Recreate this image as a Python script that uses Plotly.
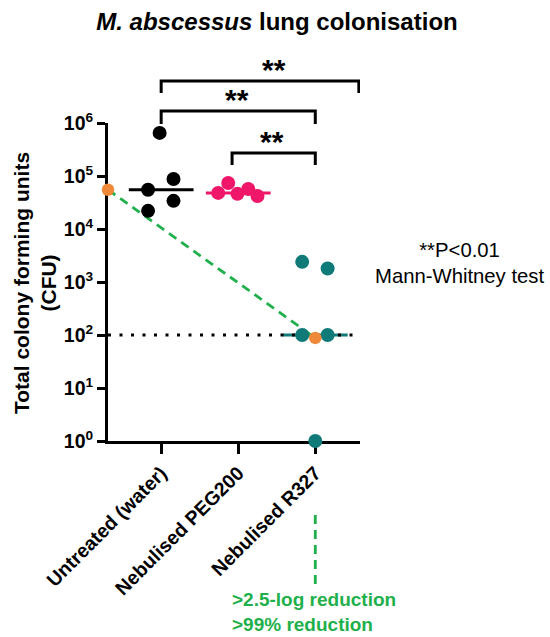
import plotly.graph_objects as go

# ---------------- data ----------------
categories = ["Untreated (water)", "Nebulised PEG200", "Nebulised R327"]

untreated_cfu = [650000, 55000, 88000, 22000, 34000]
peg200_cfu = [74000, 48000, 46000, 57000, 42000]
r327_cfu = [2400, 1800, 100, 100, 1]

median_cfu = [55000, 48000, 100]
detection_limit = 100

reduction_start_cfu = 55000   # untreated median, drawn at the y axis
reduction_end_cfu = 88        # R327 reference point

y_tickvals = [1, 10, 100, 1000, 10000, 100000, 1000000]
y_ticktext = ["10<sup>0</sup>", "10<sup>1</sup>", "10<sup>2</sup>", "10<sup>3</sup>",
              "10<sup>4</sup>", "10<sup>5</sup>", "10<sup>6</sup>"]

# horizontal scatter of the dots within each column (in category units)
untreated_jitter = [-0.02, -0.17, 0.16, -0.17, 0.16]
peg200_jitter = [-0.13, -0.26, -0.01, 0.13, 0.25]
r327_jitter = [-0.17, 0.16, -0.17, 0.16, 0.0]

# ---------------- styling ----------------
FONT = "Liberation Sans, Arial, sans-serif"
BLACK = "#000000"
PINK = "#f0176b"
TEAL = "#0f7a78"
ORANGE = "#f0883a"
GREEN = "#1fb04b"

X_RANGE = [-0.69, 2.58]
MEDIAN_HALF = 0.42

fig = go.Figure()

groups = [
    (0, untreated_cfu, untreated_jitter, BLACK, 14),
    (1, peg200_cfu, peg200_jitter, PINK, 14),
    (2, r327_cfu, r327_jitter, TEAL, 14),
]

# median lines
for (i, vals, jit, col, sz) in groups:
    fig.add_trace(go.Scatter(
        x=[i - MEDIAN_HALF, i + MEDIAN_HALF], y=[median_cfu[i], median_cfu[i]],
        mode="lines", line=dict(color=col, width=3), hoverinfo="skip",
        showlegend=False))

# detection limit dotted line
fig.add_trace(go.Scatter(
    x=X_RANGE, y=[detection_limit, detection_limit], mode="lines",
    line=dict(color=BLACK, width=3, dash="3px,8.5px"), hoverinfo="skip",
    showlegend=False))

# green dashed reduction line
fig.add_trace(go.Scatter(
    x=[X_RANGE[0], 2], y=[reduction_start_cfu, reduction_end_cfu], mode="lines",
    line=dict(color=GREEN, width=2.8, dash="9px,6px"), hoverinfo="skip",
    showlegend=False))

# data points
for (i, vals, jit, col, sz) in groups:
    fig.add_trace(go.Scatter(
        x=[i + j for j in jit], y=vals, mode="markers",
        marker=dict(color=col, size=sz, line=dict(width=0)),
        cliponaxis=False, showlegend=False))

# orange reference points
fig.add_trace(go.Scatter(
    x=[X_RANGE[0], 2], y=[reduction_start_cfu, reduction_end_cfu], mode="markers",
    marker=dict(color=ORANGE, size=12.5, line=dict(width=0)),
    cliponaxis=False, showlegend=False))

# ---------------- significance brackets ----------------
def py2paper(py):
    return (441 - py) / 318.0

brackets = [
    (0, 2.565, 81, 93),
    (0, 2.0, 111, 124),
    (0.92, 2.0, 153, 165),
]
for (x0, x1, ytop, ybot) in brackets:
    yt, yb = py2paper(ytop), py2paper(ybot)
    fig.add_shape(type="path", xref="x", yref="paper",
                  path=f"M {x0},{yb} L {x0},{yt} L {x1},{yt} L {x1},{yb}",
                  line=dict(color=BLACK, width=3))

stars = [(1.47, 69), (0.99, 99), (1.44, 141)]
for (sx, spy) in stars:
    fig.add_annotation(x=sx, y=py2paper(spy), xref="x", yref="paper",
                       text="<b>**</b>", showarrow=False,
                       font=dict(family=FONT, size=30, color=BLACK),
                       xanchor="center", yanchor="middle")

# green vertical dashed line below R327
fig.add_shape(type="line", xref="x", yref="paper", x0=2, x1=2,
              y0=py2paper(515), y1=py2paper(586),
              line=dict(color=GREEN, width=2.8, dash="9px,6px"))

fig.add_annotation(x=(230 - 108) / 252.0, y=py2paper(612), xref="paper", yref="paper",
                   text="<b>&gt;2.5-log reduction<br>&gt;99% reduction</b>",
                   showarrow=False, align="left", xanchor="left", yanchor="middle",
                   font=dict(family=FONT, size=19, color=GREEN))

fig.add_annotation(x=(459 - 108) / 252.0, y=py2paper(263), xref="paper", yref="paper",
                   text="**P&lt;0.01<br>Mann-Whitney test",
                   showarrow=False, align="center", xanchor="center", yanchor="middle",
                   font=dict(family=FONT, size=20.3, color=BLACK))

# y axis title as annotation
fig.add_annotation(x=(35 - 108) / 252.0, y=py2paper(283), xref="paper", yref="paper",
                   text="<b>Total colony forming units<br>(CFU)</b>",
                   textangle=-90, showarrow=False, xanchor="center", yanchor="middle",
                   font=dict(family=FONT, size=21, color=BLACK))

fig.update_layout(
    width=550, height=637,
    margin=dict(l=108, r=190, t=123, b=196, pad=0),
    paper_bgcolor="white", plot_bgcolor="white",
    title=dict(text="<b><i>M. abscessus</i> lung colonisation</b>",
               x=277 / 550, xanchor="center", xref="container",
               y=1 - 22 / 637, yanchor="middle",
               font=dict(family=FONT, size=24, color=BLACK)),
    showlegend=False,
    font=dict(family=FONT, color=BLACK),
)

fig.update_xaxes(
    range=X_RANGE, tickmode="array", tickvals=[0, 1, 2],
    ticktext=[f"<b>{c}</b>" for c in categories], tickangle=-45,
    tickfont=dict(family=FONT, size=19.5, color=BLACK),
    ticks="outside", ticklen=10, tickwidth=2.5, tickcolor=BLACK,
    showline=True, linewidth=3, linecolor=BLACK,
    showgrid=False, zeroline=False, layer="below traces")

fig.update_yaxes(
    type="log", range=[0, 6], tickmode="array", tickvals=y_tickvals,
    ticktext=[f"<b>{t}</b>" for t in y_ticktext],
    tickfont=dict(family=FONT, size=19.5, color=BLACK),
    ticks="outside", ticklen=8, tickwidth=2.5, tickcolor=BLACK,
    showline=True, linewidth=3, linecolor=BLACK,
    showgrid=False, zeroline=False, layer="below traces")

fig.write_html(
    "out.html",
    config={"displayModeBar": False},
    post_script="document.body.style.margin='0px';document.body.style.padding='0px';"
                "document.body.style.overflow='hidden';",
)
